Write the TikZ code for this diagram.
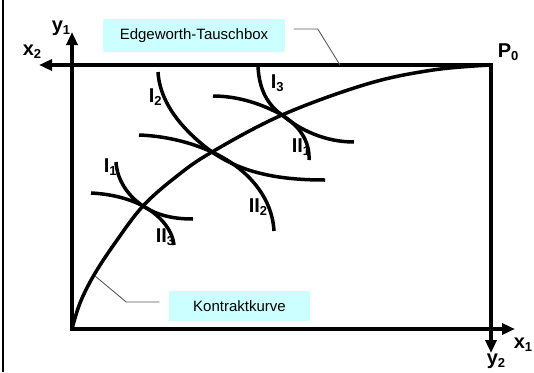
\documentclass[tikz,border=0pt]{standalone}
\usepackage{fontspec}
\setmainfont{Liberation Sans}
\usepackage{tikz}
\usetikzlibrary{arrows.meta}
\definecolor{boxcyan}{HTML}{CCFFFF}
\newcommand{\idx}[2]{#1\raisebox{-3.5pt}{\fontsize{13}{13}\selectfont #2}}

\begin{document}
\begin{tikzpicture}[x=1pt,y=-1pt,line width=3.5pt,
    axis/.style={line cap=rect,-{Triangle[length=13pt,width=11pt]}},
    lbl/.style={anchor=base west,inner sep=0pt,font=\fontsize{20}{20}\selectfont\bfseries},
    infobox/.style={fill=boxcyan,inner sep=0pt,font=\fontsize{15}{15}\selectfont},
    leader/.style={draw=gray!70!black,line width=0.9pt}]
    \useasboundingbox (0,0) rectangle (534,372);
    \draw[line width=2pt] (3,0) -- (3,372);

    % corners of the box and the points on the contract curve
    \coordinate (O1) at (72,329);
    \coordinate (O2) at (491,65);
    \coordinate (c1) at (143,206);
    \coordinate (c2) at (212,152);
    \coordinate (c3) at (282,115);

    % axes
    \coordinate (y1tip) at (72,32);
    \coordinate (x1tip) at (515,329);
    \coordinate (x2tip) at (39,65);
    \coordinate (y2tip) at (491,353);
    \draw[axis] (O1) -- (y1tip);
    \draw[axis] (O1) -- (x1tip);
    \draw[axis] (O2) -- (x2tip);
    \draw[axis] (O2) -- (y2tip);

    \node[lbl] (y1) at (50,31) {\idx{y}{1}};
    \node[lbl] (x2) at (21,55) {\idx{x}{2}};
    \node[lbl] (x1) at (512,348) {\idx{x}{1}};
    \node[lbl] (y2) at (485,364) {\idx{y}{2}};
    \node[lbl] (P0) at (496,57) {\idx{P}{0}};

    % labels of the indifference curves
    \node[lbl] (lI1) at (102,172) {\idx{I}{1}};
    \node[lbl] (lI2) at (147,102) {\idx{I}{2}};
    \node[lbl] (lI3) at (269,88) {\idx{I}{3}};
    \node[lbl] (lII1) at (290,152) {\idx{II}{1}};
    \node[lbl] (lII2) at (247,212) {\idx{II}{2}};
    \node[lbl] (lII3) at (154,242) {\idx{II}{3}};

    % contract curve
    \draw plot[smooth,tension=0.6] coordinates {(72,329) (80,303) (94,275) (115,243)
      (143,206) (177,176) (212,152) (282,115) (367,84) (433,70) (491,65)};

    % indifference curves
    \draw (116,162) .. controls (117,180) and (128,196) .. (c1)
      .. controls (158,216) and (175,219) .. (193,219);
    \draw (91,193) .. controls (110,194) and (128,198) .. (c1)
      .. controls (158,214) and (172,228) .. (174,245);
    \draw (158,72) .. controls (160,105) and (185,132) .. (c2)
      .. controls (245,175) and (285,180) .. (325,180);
    \draw (139,135) .. controls (165,136) and (190,142) .. (c2)
      .. controls (245,167) and (272,195) .. (274,231);
    \draw (258,66) .. controls (259,90) and (268,105) .. (c3)
      .. controls (300,130) and (325,142) .. (354,142);
    \draw (213,96) .. controls (238,96) and (262,104) .. (c3)
      .. controls (298,125) and (310,140) .. (309,160);

    % boxes with leaders
    \node[infobox,minimum width=182pt,minimum height=33pt] (tauschbox) at (194,35.5) {Edgeworth-Tauschbox};
    \node[infobox,minimum width=141pt,minimum height=30pt] (kurvebox) at (239.5,306) {Kontraktkurve};
    \coordinate (tb) at (340,65);
    \coordinate (kk) at (95,276);
    \draw[leader] ([xshift=7pt,yshift=6.5pt]tauschbox.east) -- ++(24,0) -- (tb);
    \draw[leader] ([xshift=-8pt,yshift=4pt]kurvebox.west) -- ++(-33,0) -- (kk);
\end{tikzpicture}
\end{document}
